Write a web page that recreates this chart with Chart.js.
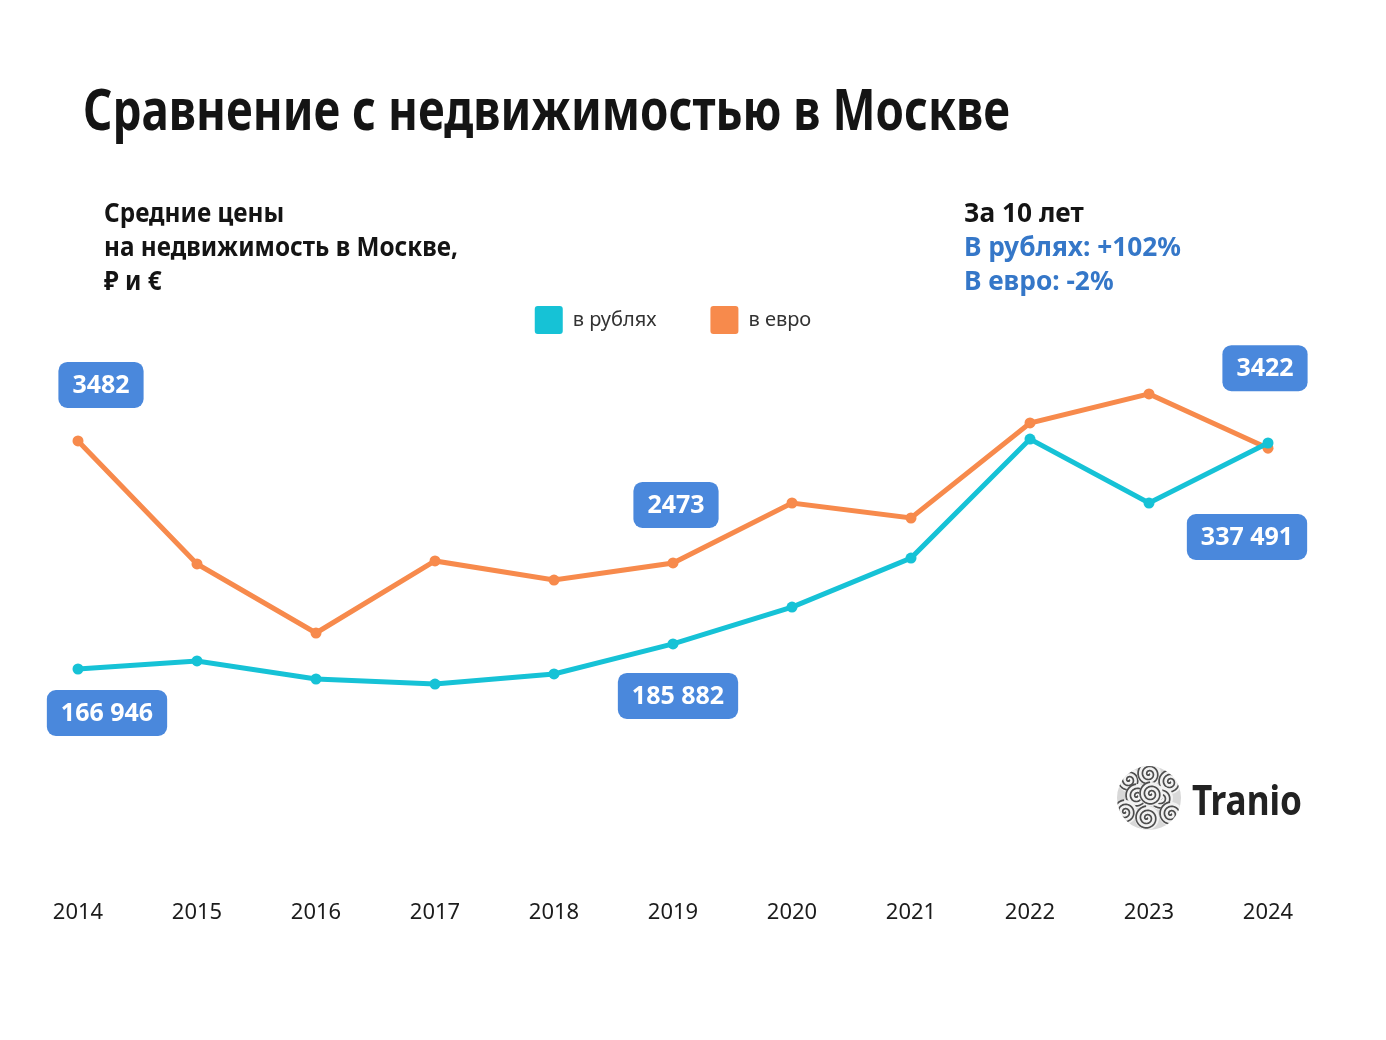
<!DOCTYPE html>
<html lang="ru">
<head>
<meta charset="utf-8">
<title>Сравнение с недвижимостью в Москве</title>
<script src="https://cdn.jsdelivr.net/npm/chart.js@4.4.1/dist/chart.umd.min.js"></script>
<style>
  html, body { margin: 0; padding: 0; background: #fff; }
  #page { position: relative; width: 1386px; height: 1040px; overflow: hidden; font-family: "Noto Sans", sans-serif; color: #141414; }
  #chart { position: absolute; left: 0; top: 0; }
  #logo { position: absolute; left: 1115px; top: 764px; }
  .txt { position: absolute; white-space: nowrap; transform-origin: 0 0; font-weight: 700; }
  #title { left: 83px; top: 73px; font-size: 58px; line-height: 70px; }
  .block { top: 195px; font-size: 26px; line-height: 34px; }
  #leftBlock { left: 104px; }
  #rightBlock { left: 964px; }
  .blue { color: #3577c8; }
  #brand { left: 1192px; top: 771px; font-size: 42px; line-height: 56px; color: #222; }
</style>
</head>
<body>
<div id="page">
  <canvas id="chart" width="1386" height="1040"></canvas>
  <canvas id="logo" width="68" height="68"></canvas>
  <div class="txt" id="title">Сравнение с недвижимостью в Москве</div>
  <div class="txt block" id="leftBlock">Средние цены<br>на недвижимость в Москве,<br>₽ и €</div>
  <div class="txt block" id="rightBlock">За 10 лет<br><span class="blue" id="rubChange"></span><br><span class="blue" id="eurChange"></span></div>
  <div class="txt" id="brand">Tranio</div>
</div>
<script>
const years = ['2014', '2015', '2016', '2017', '2018', '2019', '2020', '2021', '2022', '2023', '2024'];
const rubValues = [166946, 173000, 159400, 155600, 163200, 185882, 213700, 250700, 340500, 292200, 337491];
const eurValues = [3482, 2465, 1894, 2490, 2332, 2473, 2969, 2845, 3631, 3871, 3422];
const seriesNames = ['в рублях', 'в евро'];

// which points get a value box, and where the box sits relative to the point
const callouts = [
    { ds: 1, i: 0, dx: 23, dy: -56 },
    { ds: 0, i: 0, dx: 29, dy: 44 },
    { ds: 1, i: 5, dx: 3, dy: -58 },
    { ds: 0, i: 5, dx: 5, dy: 52 },
    { ds: 1, i: 10, dx: -3, dy: -80 },
    { ds: 0, i: 10, dx: -21, dy: 94 }
];

const cyan = '#16c2d6';
const orange = '#f78a4c';
const boxBlue = '#4a88dc';

//Format numbers like "166 946"
function fmt(v, grouped) {
    const s = String(v);
    return grouped ? s.replace(/\B(?=(\d{3})+(?!\d))/g, ' ') : s;
}

function pct(arr) {
    const p = Math.round((arr[arr.length - 1] / arr[0] - 1) * 100);
    return (p > 0 ? '+' : '') + p + '%';
}

document.getElementById('rubChange').textContent = 'В рублях: ' + pct(rubValues);
document.getElementById('eurChange').textContent = 'В евро: ' + pct(eurValues);

const calloutPlugin = {
    id: 'callouts',
    afterDatasetsDraw(chart) {
        const ctx = chart.ctx;
        ctx.save();
        ctx.font = 'bold 25px "Noto Sans", sans-serif';
        ctx.textAlign = 'center';
        ctx.textBaseline = 'middle';
        callouts.forEach(c => {
            const pt = chart.getDatasetMeta(c.ds).data[c.i];
            const value = chart.data.datasets[c.ds].data[c.i];
            const text = fmt(value, c.ds === 0);
            const w = ctx.measureText(text).width + 28;
            const h = 46;
            const cx = pt.x + c.dx;
            const cy = pt.y + c.dy;
            ctx.fillStyle = boxBlue;
            ctx.beginPath();
            ctx.roundRect(cx - w / 2, cy - h / 2, w, h, 9);
            ctx.fill();
            ctx.fillStyle = '#fff';
            ctx.fillText(text, cx, cy + 1);
        });
        ctx.restore();
    }
};

new Chart(document.getElementById('chart'), {
    type: 'line',
    data: {
        labels: years,
        datasets: [{
            label: seriesNames[0],
            data: rubValues,
            yAxisID: 'yRub',
            borderColor: cyan,
            backgroundColor: cyan,
            pointBackgroundColor: cyan,
            borderWidth: 5,
            pointRadius: 5.5,
            pointBorderWidth: 0,
            clip: false
        }, {
            label: seriesNames[1],
            data: eurValues,
            yAxisID: 'yEur',
            borderColor: orange,
            backgroundColor: orange,
            pointBackgroundColor: orange,
            borderWidth: 5,
            pointRadius: 5.5,
            pointBorderWidth: 0,
            clip: false
        }]
    },
    options: {
        responsive: false,
        animation: false,
        devicePixelRatio: 1,
        layout: { padding: { top: 252, left: 78, right: 118, bottom: 111 } },
        plugins: {
            tooltip: { enabled: false },
            legend: {
                position: 'top',
                labels: {
                    boxWidth: 28,
                    boxHeight: 28,
                    padding: 54,
                    color: '#333',
                    useBorderRadius: true,
                    borderRadius: 3,
                    font: { family: 'Noto Sans', size: 20 },
                    generateLabels(chart) {
                        const items = Chart.defaults.plugins.legend.labels.generateLabels(chart);
                        items.forEach(it => { it.lineWidth = 0; it.strokeStyle = 'transparent'; });
                        return items;
                    }
                }
            }
        },
        scales: {
            x: {
                grid: { display: false, drawTicks: false },
                border: { display: false },
                ticks: { color: '#1c1c1c', padding: 3, font: { family: 'Noto Sans', size: 22 } }
            },
            yRub: { display: false, min: -4800, max: 412200 },
            yEur: { display: false, min: -286, max: 4284 }
        }
    },
    plugins: [calloutPlugin]
});

//Logo: circle of swirls
function drawLogo() {
    const ctx = document.getElementById('logo').getContext('2d');
    const cx = 34, cy = 34, r = 32;
    ctx.save();
    ctx.beginPath();
    ctx.arc(cx, cy, r, 0, Math.PI * 2);
    ctx.clip();
    ctx.fillStyle = '#d8d8d8';
    ctx.fillRect(0, 0, 68, 68);
    const swirls = [[14, 16], [34, 10], [55, 18], [22, 32], [46, 34], [10, 48], [32, 54], [56, 50], [36, 30]];
    swirls.forEach(([x, y]) => {
        ctx.fillStyle = '#f2f2f2';
        ctx.beginPath();
        ctx.arc(x, y, 12, 0, Math.PI * 2);
        ctx.fill();
        ctx.strokeStyle = '#4d4d4d';
        ctx.lineWidth = 1.7;
        ctx.beginPath();
        const turns = 5.5 * Math.PI;
        for (let t = 0; t <= turns; t += 0.1) {
            const rr = 12 * t / turns;
            ctx.lineTo(x + rr * Math.cos(t), y + rr * Math.sin(t));
        }
        ctx.stroke();
    });
    ctx.restore();
}
drawLogo();

//Squeeze texts to the widths seen in the original
function fitWidth(id, target) {
    const el = document.getElementById(id);
    const w = el.getBoundingClientRect().width;
    el.style.transform = `scaleX(${target / w})`;
}
document.fonts.ready.then(() => {
    fitWidth('title', 927);
    fitWidth('leftBlock', 354);
    fitWidth('rightBlock', 217);
    fitWidth('brand', 110);
});
</script>
</body>
</html>
